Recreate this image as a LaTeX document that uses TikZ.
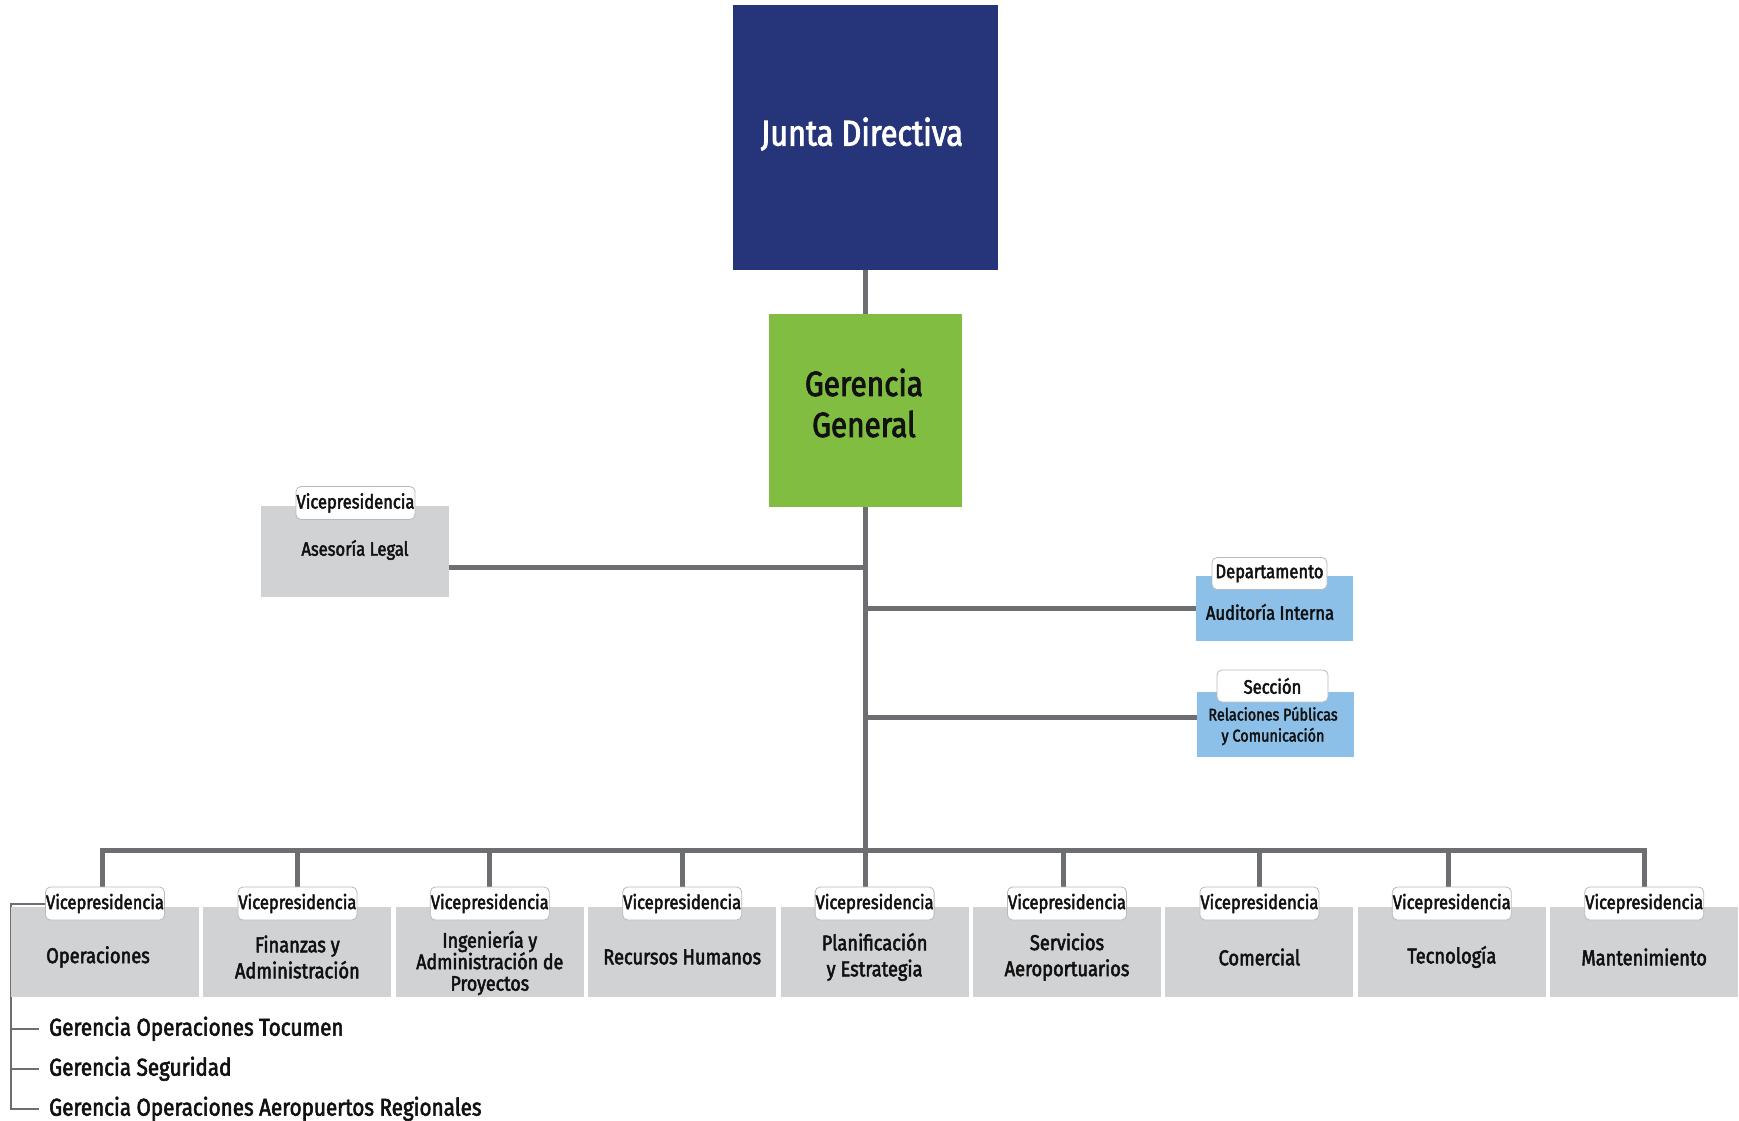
\documentclass[tikz,border=0pt]{standalone}
\usepackage{fontspec}
\setmainfont{Fira Sans}[FakeStretch=0.85,FakeBold=2.4]
\usetikzlibrary{backgrounds}
\definecolor{navy}{HTML}{263479}
\definecolor{ggreen}{HTML}{80BD41}
\definecolor{lblue}{HTML}{8DC0E8}
\definecolor{boxgray}{HTML}{D1D2D4}
\definecolor{linegray}{HTML}{6D6E71}
\definecolor{taggray}{HTML}{B8B9BC}
\definecolor{txt}{HTML}{111111}
\tikzset{
  conn/.style={draw=linegray,line width=5pt},
  bracket/.style={draw=linegray,line width=2pt},
  unit/.style={fill=boxgray,minimum width=188pt,minimum height=90pt,inner sep=0pt},
  unittext/.style={text=txt,align=center,inner sep=0pt,font=\fontsize{21.5}{26}\selectfont},
  tagbox/.style={draw=taggray,line width=0.8pt,fill=white,rounded corners=5pt,minimum width=119pt,minimum height=33pt,inner sep=0pt,text=txt,font=\fontsize{19.5}{20}\selectfont},
  smalltag/.style={tagbox,minimum height=32pt,font=\fontsize{19.5}{20}\selectfont},
  sidetext/.style={text=txt,align=center,inner sep=0pt,font=\fontsize{19.5}{21}\selectfont},
  listitem/.style={anchor=mid west,inner sep=0pt,text=txt,font=\fontsize{24.3}{26}\selectfont},
}
\begin{document}
\begin{tikzpicture}[x=1pt,y=-1pt]
\useasboundingbox (0,0) rectangle (1739,1120);
% top
\node[fill=navy,minimum width=265pt,minimum height=265pt,inner sep=0pt] (jd) at (865.5,137.5) {};
\node[text=white,inner sep=0pt,font=\fontsize{36}{40}\selectfont] (jdt) at (862,134) {Junta Directiva};
\node[fill=ggreen,minimum width=193pt,minimum height=193pt,inner sep=0pt] (gg) at (865.5,410.5) {};
\node[text=txt,align=center,inner sep=0pt,font=\fontsize{35}{41}\selectfont] (ggt) at (864,403) {Gerencia\\General};
% side units
\node[fill=boxgray,minimum width=188pt,minimum height=91pt,inner sep=0pt] (al) at (355,551.5) {};
\node[sidetext] (alx) at (355,550) {Asesoría Legal};
\node[tagbox] (alt) at (355.5,503) {Vicepresidencia};
\node[fill=lblue,minimum width=157pt,minimum height=65pt,inner sep=0pt] (au) at (1274.5,608.5) {};
\node[sidetext] (aux) at (1270,612) {Auditoría Interna};
\node[smalltag,minimum width=115pt] (aut) at (1269.5,573.5) {Departamento};
\node[fill=lblue,minimum width=157pt,minimum height=65pt,inner sep=0pt] (rp) at (1275.5,724.5) {};
\node[sidetext,font=\fontsize{17}{21}\selectfont] (rpx) at (1273,726) {Relaciones Públicas\\y Comunicación};
\node[smalltag,minimum width=111pt] (rpt) at (1272.5,686) {Sección};
% bottom units
\foreach \i/\t in {2/{Finanzas y\\Administración},4/Recursos Humanos,5/{Planificación\\y Estrategia},6/{Servicios\\Aeroportuarios},7/Comercial,8/Tecnología,9/Mantenimiento}{
  \node[unit] (b\i) at ({105+(\i-1)*192.4},952) {};
  \node[unittext] (t\i) at ({105+(\i-1)*192.4},957) {\t};
  \node[tagbox] (v\i) at ({105+(\i-1)*192.4},903.5) {Vicepresidencia};
}
\node[unit] (b1) at (105,952) {};
\node[unittext] (t1) at (98,957) {Operaciones};
\node[tagbox] (v1) at (105,903.5) {Vicepresidencia};
\node[unit] (b3) at (489.8,952) {};
\node[unittext,font=\fontsize{21}{21.5}\selectfont] (t3) at (489.8,963) {Ingeniería y\\Administración de\\Proyectos};
\node[tagbox] (v3) at (489.8,903.5) {Vicepresidencia};
% list
\node[listitem] (g1) at (49,1033) {Gerencia Operaciones Tocumen};
\node[listitem] (g2) at (49,1073) {Gerencia Seguridad};
\node[listitem] (g3) at (49,1113) {Gerencia Operaciones Aeropuertos Regionales};
\coordinate (brk) at (11,905);
\coordinate (bus) at (866,850);
\begin{scope}[on background layer]
\draw[conn] (jd.south) -- (jd.south |- v5.north);
\draw[conn] ([yshift=-15.5pt]al.east) -- ([yshift=-15.5pt]al.east -| jd.south);
\draw[conn] (au.west -| jd.south) -- (au.west);
\draw[conn] ([yshift=7.5pt]rp.west -| jd.south) -- ([yshift=7.5pt]rp.west);
\draw[conn] ([xshift=-3pt]v1.north) |- (bus) -| (v9.north);
\foreach \i/\s in {2/0,3/0,4/0,6/-4,7/0,8/-3}{\draw[conn] ([xshift=\s pt]v\i.north) -- ([xshift=\s pt]v\i.north |- bus);}
\draw[bracket] (v1.west) -| (brk |- g3.west) -- ([xshift=-10pt]g3.west);
\draw[bracket] (brk |- g1.west) -- ([xshift=-10pt]g1.west);
\draw[bracket] (brk |- g2.west) -- ([xshift=-10pt]g2.west);
\end{scope}
\end{tikzpicture}
\end{document}
